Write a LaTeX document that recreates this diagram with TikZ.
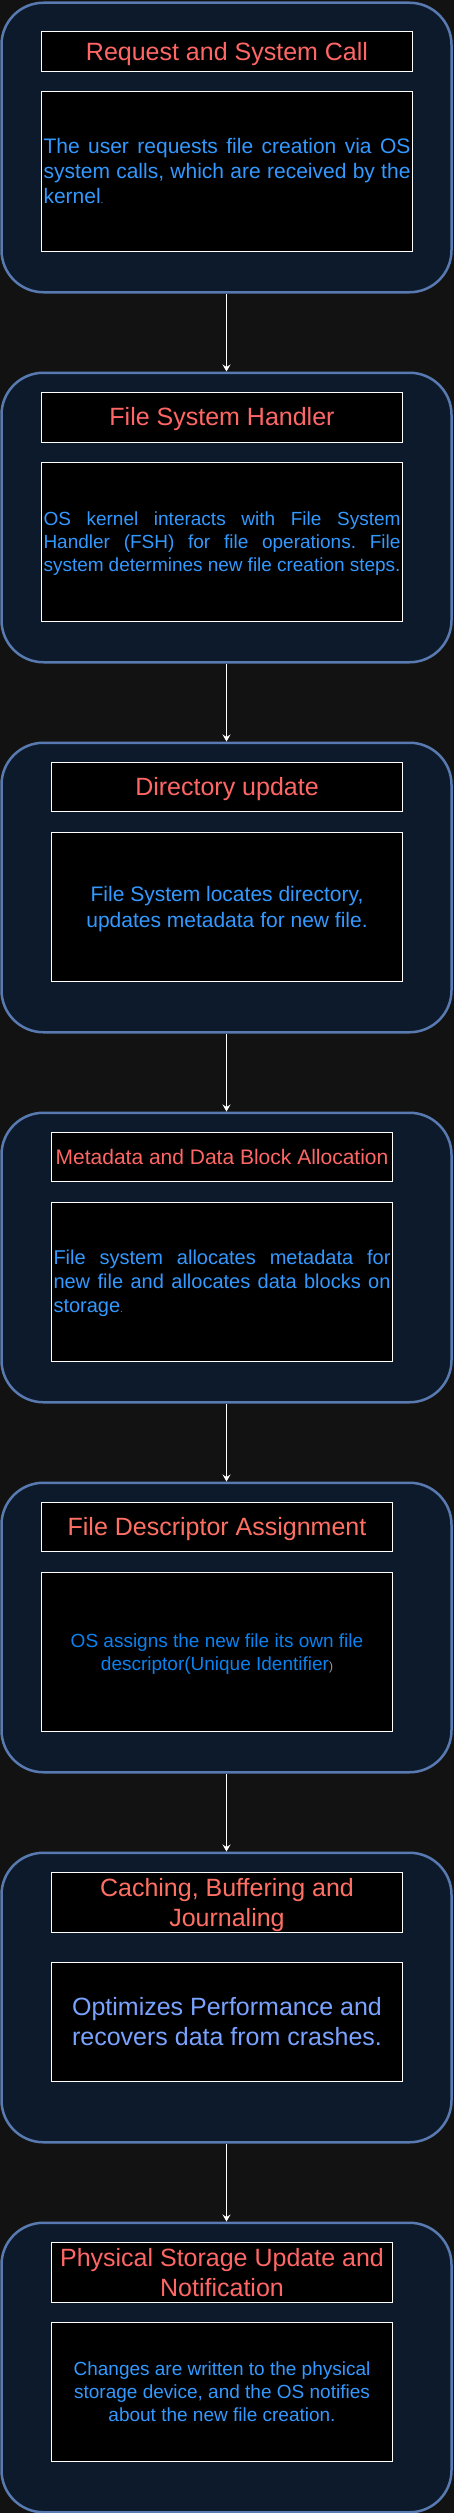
\documentclass[tikz,border=0pt]{standalone}
\usepackage{fontspec}
\setmainfont{Liberation Sans}
\usetikzlibrary{arrows.meta}
\frenchspacing
\definecolor{bg}{RGB}{18,18,18}
\definecolor{boxfill}{RGB}{12,26,44}
\definecolor{bordercol}{RGB}{88,122,176}
\definecolor{titlecol}{RGB}{255,102,102}
\definecolor{titlecolb}{RGB}{255,112,100}
\definecolor{bodycol}{RGB}{51,153,255}
\definecolor{bodycolb}{RGB}{10,130,240}
\definecolor{bodycolc}{RGB}{122,162,255}
\definecolor{greycol}{RGB}{160,160,160}
\newcommand{\ls}{\rule[-0.2535em]{0pt}{1.2em}}
\begin{document}
\begin{tikzpicture}[x=1pt,y=-1pt,
  outer/.style={draw=bordercol, line width=2.5pt, fill=boxfill, rounded corners=42pt,
    minimum width=450pt, minimum height=289.5pt, anchor=north, inner sep=0pt},
  titlebox/.style={draw=white, line width=1pt, fill=black, text=titlecol, anchor=north west,
    inner sep=0pt, align=center, font=\fontsize{25}{30}\selectfont},
  bodybox/.style={draw=white, line width=1pt, fill=black, text=bodycol, anchor=north west,
    inner sep=0pt},
  link/.style={draw=white, line width=1pt, -{Stealth[length=7pt,width=8pt,inset=2.5pt]}}
]
\fill[bg] (0,0) rectangle (454,2513);
\useasboundingbox (0,0) rectangle (454,2513);

% Box 1
\node[outer] (o1) at (226.5,1.5) {};
\node[titlebox, minimum width=371pt, minimum height=40pt] (t1) at (41,31) {\ls Request and System Call\ls};
\node[bodybox, minimum width=371pt, minimum height=160pt, text width=367pt, align=justify,
  font=\fontsize{21}{25}\selectfont] (d1) at (41,91)
  {\noindent\ls The user requests file creation via OS\linebreak system calls, which are received by the\linebreak kernel{\fontsize{10}{12}\selectfont .}\ls};

% Box 2
\node[outer] (o2) at (226.5,371.5) {};
\node[titlebox, minimum width=361pt, minimum height=50pt] (t2) at (41,391.5) {\ls File System Handler\ls};
\node[bodybox, minimum width=361pt, minimum height=159pt, text width=357pt, align=justify,
  font=\fontsize{19}{23}\selectfont] (d2) at (41,462)
  {\noindent\ls OS kernel interacts with File System\linebreak Handler (FSH) for file operations. File\linebreak system determines new file creation steps.\ls};

% Box 3
\node[outer] (o3) at (226.5,741.5) {};
\node[titlebox, minimum width=351pt, minimum height=49pt] (t3) at (51,762) {\ls Directory update\ls};
\node[bodybox, minimum width=351pt, minimum height=149pt, align=center,
  font=\fontsize{21}{25}\selectfont] (d3) at (51,832)
  {\ls File System locates directory,\ls\\\ls updates metadata for new file.\ls};

% Box 4
\node[outer] (o4) at (226.5,1111.5) {};
\node[titlebox, minimum width=341pt, minimum height=49pt, font=\fontsize{21}{25}\selectfont] (t4) at (51,1132) {\ls Metadata and Data Block Allocation\ls};
\node[bodybox, minimum width=341pt, minimum height=159pt, text width=337pt, align=justify,
  font=\fontsize{20}{24}\selectfont] (d4) at (51,1202)
  {\noindent\ls File system allocates metadata for\linebreak new file and allocates data blocks on\linebreak storage{\fontsize{10}{12}\selectfont .}\ls};

% Box 5
\node[outer] (o5) at (226.5,1481.5) {};
\node[titlebox, text=titlecolb, minimum width=351pt, minimum height=49pt] (t5) at (41,1502) {\ls File Descriptor Assignment\ls};
\node[bodybox, text=bodycolb, minimum width=351pt, minimum height=159pt, align=center,
  font=\fontsize{19}{23}\selectfont] (d5) at (41,1572)
  {\ls OS assigns the new file its own file\ls\\\ls descriptor(Unique Identifier{\color{greycol}\fontsize{12}{14}\selectfont )}\ls};

% Box 6
\node[outer] (o6) at (226.5,1851.5) {};
\node[titlebox, text=titlecolb, minimum width=351pt, minimum height=59pt] (t6) at (51,1872) {\ls Caching, Buffering and\ls\\\ls Journaling\ls};
\node[bodybox, text=bodycolc, minimum width=351pt, minimum height=119pt, align=center,
  font=\fontsize{25}{30}\selectfont] (d6) at (51,1962)
  {\ls Optimizes Performance and\ls\\\ls recovers data from crashes.\ls};

% Box 7
\node[outer] (o7) at (226.5,2221.5) {};
\node[titlebox, minimum width=341pt, minimum height=59pt] (t7) at (51,2242) {\ls Physical Storage Update and\ls\\\ls Notification\ls};
\node[bodybox, minimum width=341pt, minimum height=139pt, align=center,
  font=\fontsize{19}{23}\selectfont] (d7) at (51,2322)
  {\ls Changes are written to the physical\ls\\\ls storage device, and the OS notifies\ls\\\ls about the new file creation.\ls};

% Connectors
\draw[link] (o1.south) -- (o2.north);
\draw[link] (o2.south) -- (o3.north);
\draw[link] (o3.south) -- (o4.north);
\draw[link] (o4.south) -- (o5.north);
\draw[link] (o5.south) -- (o6.north);
\draw[link] (o6.south) -- (o7.north);
\end{tikzpicture}
\end{document}
